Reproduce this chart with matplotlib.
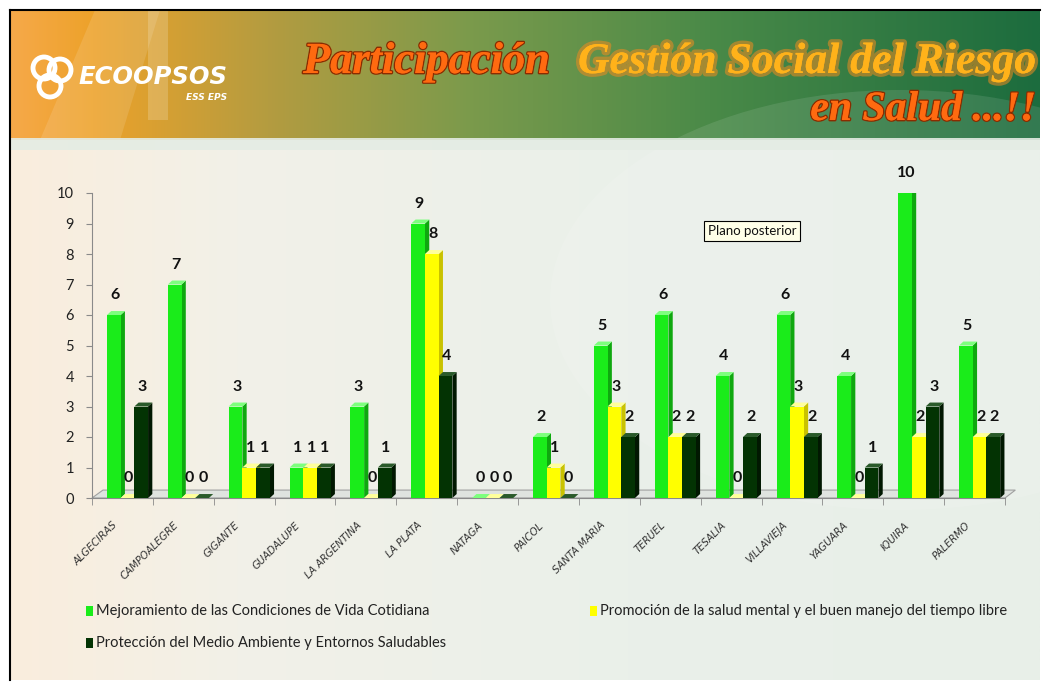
import numpy as np
import matplotlib.pyplot as plt
import matplotlib.transforms as mtransforms
from matplotlib.patches import Polygon, Rectangle, Ellipse, Circle
import matplotlib.patheffects as pe

# data
municipios = ["ALGECIRAS", "CAMPOALEGRE", "GIGANTE", "GUADALUPE", "LA ARGENTINA",
              "LA PLATA", "NATAGA", "PAICOL", "SANTA MARIA", "TERUEL", "TESALIA",
              "VILLAVIEJA", "YAGUARA", "IQUIRA", "PALERMO"]
mejoramiento = [6, 7, 3, 1, 3, 9, 0, 2, 5, 6, 4, 6, 4, 10, 5]
promocion = [0, 0, 1, 1, 0, 8, 0, 1, 3, 2, 0, 3, 0, 2, 2]
proteccion = [3, 0, 1, 1, 1, 4, 0, 0, 2, 2, 2, 2, 1, 3, 2]
series_names = ["Mejoramiento de las Condiciones de Vida Cotidiana",
                "Promoción de la salud mental y el buen manejo del tiempo libre",
                "Protección del Medio Ambiente y Entornos Saludables"]
y_ticks = list(range(0, 11))

# colours: front, side, top
colores = [("#1aec1a", "#0fa80f", "#7dff7d"),
           ("#ffff00", "#c9c200", "#ffff9a"),
           ("#033303", "#011801", "#2a5a2a")]

W, H = 1048, 685
fig = plt.figure(figsize=(W / 100, H / 100), dpi=100)

# ---- background layer in pixel coordinates
bg = fig.add_axes([0, 0, 1, 1])
bg.axis('off')


def gradient(stops, n=400):
    pos = np.array([s[0] for s in stops])
    cols = np.array([plt.matplotlib.colors.to_rgb(s[1]) for s in stops])
    xs = np.linspace(0, 1, n)
    img = np.stack([np.interp(xs, pos, cols[:, k]) for k in range(3)], axis=-1)
    return img[np.newaxis, :, :]


header = gradient([(0, "#f6a94a"), (0.08, "#eda22a"), (0.25, "#b49c40"),
                   (0.45, "#7a9a4c"), (0.68, "#4a8a48"), (1, "#1c6c3e")])
bg.imshow(header, extent=[10, 1040, 140, 10], aspect='auto', zorder=0)
body = gradient([(0, "#faeddd"), (0.22, "#f2f1e8"), (0.6, "#eaf0ea"), (1, "#e8efe8")])
bg.imshow(body, extent=[10, 1040, 680, 140], aspect='auto', zorder=0)

# decorative light shapes in the header
bg.add_patch(Polygon([[40, 140], [95, 10], [160, 10], [120, 140]], closed=True,
                     facecolor="white", alpha=0.12, zorder=1, lw=0))
bg.add_patch(Rectangle((148, 10), 20, 110, facecolor="white", alpha=0.18, zorder=1, lw=0))
bg.add_patch(Ellipse((900, 300), 700, 420, facecolor="white", alpha=0.10, zorder=1, lw=0))
bg.add_patch(Rectangle((10, 138), 1030, 12, facecolor="#e4ece4", alpha=0.9, zorder=1, lw=0))
bg.set_xlim(0, W)
bg.set_ylim(H, 0)

# frame
bg.plot([10, 1040], [10, 10], color="black", lw=1.5, zorder=3)
bg.plot([10, 10], [10, 680], color="black", lw=1.5, zorder=3)

# logo
for cx, cy in [(44, 68), (60, 70), (50, 86)]:
    bg.add_patch(Circle((cx, cy), 11, facecolor="none", edgecolor="white", lw=3.5, zorder=4))
bg.text(78, 77, "ECOOPSOS", color="white", fontsize=17.5, fontweight="bold", style="oblique",
        family="DejaVu Sans", va="center", ha="left", zorder=4)
bg.text(227, 97, "ESS EPS", color="white", fontsize=6.5, fontweight="bold", style="oblique",
        family="DejaVu Sans", va="center", ha="right", zorder=4)

# title
glow = [pe.withStroke(linewidth=5, foreground="#f08a20", alpha=0.55), pe.Normal()]
glow2 = [pe.withStroke(linewidth=2, foreground="#8a2c00"), pe.Normal()]
bg.text(303, 62, "Participación", color="#ff6a10", fontsize=32, fontweight="bold",
        style="italic", family="Liberation Serif", va="center", ha="left", zorder=4,
        path_effects=glow2)
bg.text(1036, 62, "Gestión Social del Riesgo", color="#ffb21a", fontsize=31.5, fontweight="bold",
        style="italic", family="Liberation Serif", va="center", ha="right", zorder=4,
        path_effects=glow)
bg.text(1036, 110, "en Salud ...!!", color="#ff6a10", fontsize=30, fontweight="bold",
        style="italic", family="Liberation Serif", va="center", ha="right", zorder=4,
        path_effects=glow2)

# ---- chart
ax = fig.add_axes([92 / W, (H - 498) / H, 913 / W, (498 - 193) / H])
ax.set_facecolor("none")
ax.set_xlim(-0.5, len(municipios) - 0.5)
ax.set_ylim(0, 10)

x = np.arange(len(municipios))
w = 0.225
offsets = [-0.254, -0.029, 0.196]
dx, dy = 0.07, 0.13

# floor
fx0, fx1 = -0.5, len(municipios) - 0.5
ax.add_patch(Polygon([[fx0, 0], [fx1, 0], [fx1 + 0.17, 0.26], [fx0 + 0.18, 0.26]],
                     closed=True, facecolor="#dfe3df", edgecolor="#a0a0a0", lw=0.8,
                     zorder=1, clip_on=False))

for vals, off, (cf, cs, ct) in zip([mejoramiento, promocion, proteccion], offsets, colores):
    bars = ax.bar(x + off, vals, width=w, align="edge", color=cf, zorder=3, lw=0)
    for b, v in zip(bars, vals):
        x0 = b.get_x()
        x1 = x0 + b.get_width()
        ax.add_patch(Polygon([[x1, 0], [x1 + dx, dy], [x1 + dx, v + dy], [x1, v]],
                             closed=True, facecolor=cs, lw=0, zorder=2))
        ax.add_patch(Polygon([[x0, v], [x0 + dx, v + dy], [x1 + dx, v + dy], [x1, v]],
                             closed=True, facecolor=ct, lw=0, zorder=3))
        ax.text(x0 + w / 2 + 0.02, v + 0.65, str(v), ha="center", va="center", fontsize=11.5,
                fontweight="bold", family="Lato", color="#111111", zorder=5)

for s in ["top", "right"]:
    ax.spines[s].set_visible(False)
for s in ["left", "bottom"]:
    ax.spines[s].set_color("#8a8a8a")
ax.set_yticks(y_ticks)
ax.set_yticklabels([str(t) for t in y_ticks], family="Lato", fontsize=10.5, color="#222222")
ax.tick_params(axis="y", length=4, color="#8a8a8a", pad=9)
ax.set_xticks(x)
ax.set_xticklabels(municipios, rotation=45, ha="right", rotation_mode="anchor",
                   family="DejaVu Sans", style="oblique", fontsize=7.3, color="#333333")
ax.tick_params(axis="x", length=0, pad=16)
ax.set_xticks(np.arange(-0.5, len(municipios)), minor=True)
ax.tick_params(axis="x", which="minor", length=5, color="#8a8a8a")
shift = mtransforms.ScaledTranslation(-7 / 72, 0, fig.dpi_scale_trans)
for lab in ax.get_xticklabels():
    lab.set_transform(lab.get_transform() + shift)

# legend
leg_pos = [(86, 611), (590, 611), (86, 643)]
for (lx, ly), name, (cf, _, _) in zip(leg_pos, series_names, colores):
    bg.add_patch(Rectangle((lx, ly - 5), 7, 10, facecolor=cf, lw=0, zorder=4))
    bg.text(lx + 10, ly, name, fontsize=10.5, family="Lato", color="#222222",
            va="center", ha="left", zorder=4)

# tooltip box
bg.text(752, 231, "Plano posterior", fontsize=9.5, family="Lato", color="#111111",
        ha="center", va="center", zorder=6,
        bbox=dict(boxstyle="square,pad=0.3", facecolor="#ffffe8", edgecolor="black", lw=0.8))

fig.savefig("out.png", dpi=100)
